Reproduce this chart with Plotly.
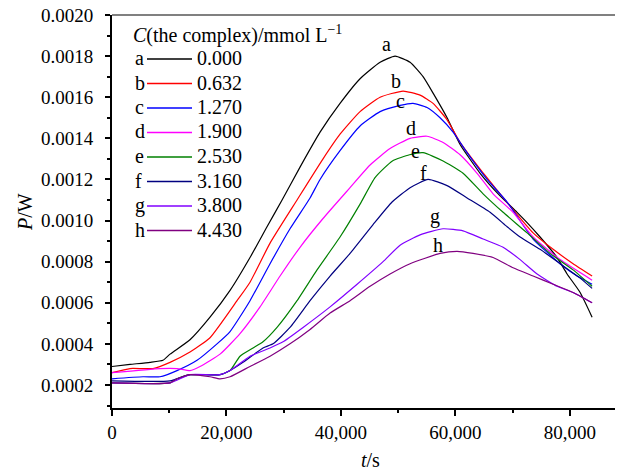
import plotly.graph_objects as go

# ---------------- data (t in s, P in W) ----------------
t_a = [0, 3150, 6640, 8910, 10140, 13630, 17130, 20630, 24120, 27090, 29720, 32860, 36360, 39850,
       43350, 46850, 49470, 52090, 54360, 56110, 58560, 60830, 64330, 67820, 70790, 72540,
       74810, 77790, 79530, 81810, 83900]
p_a = [0.00029, 0.00030, 0.00031, 0.00032, 0.00035, 0.00042, 0.00053, 0.00066, 0.00082, 0.00097,
       0.00110, 0.00126, 0.00143, 0.00157, 0.00169, 0.00177, 0.00180, 0.00177, 0.00170, 0.00162,
       0.00150, 0.00137, 0.00123, 0.00112, 0.00104, 0.00099, 0.00092, 0.00082, 0.00074,
       0.00065, 0.00053]

t_b = [0, 3150, 7170, 10140, 13630, 17130, 21850, 24120, 27620, 32340, 36880, 39850, 43350, 46850,
       50870, 53840, 56110, 58560, 60830, 64330, 67820, 69570, 73590, 77090, 80580, 83900]
p_b = [0.00026, 0.00028, 0.00028, 0.00031, 0.00036, 0.00043, 0.00061, 0.00070, 0.00089, 0.00110,
       0.00130, 0.00142, 0.00153, 0.00160, 0.00163, 0.00161, 0.00157, 0.00149, 0.00138, 0.00125,
       0.00113, 0.00107, 0.00094, 0.00086, 0.00079, 0.00073]

t_c = [0, 5420, 8390, 11360, 14860, 18350, 20630, 24120, 27620, 31110, 34610, 36360, 39850, 43350,
       46850, 50340, 52610, 55060, 57330, 59610, 62050, 65550, 69050, 73590, 78310, 81280, 83900]
p_c = [0.00023, 0.00024, 0.00024, 0.00027, 0.00032, 0.00040, 0.00046, 0.00061, 0.00079, 0.00096,
       0.00111, 0.00120, 0.00134, 0.00146, 0.00153, 0.00156, 0.00157, 0.00155, 0.00150, 0.00143,
       0.00133, 0.00120, 0.00109, 0.00091, 0.00079, 0.00073, 0.00069]

t_d = [0, 8390, 11360, 13630, 15380, 18880, 22370, 25870, 29370, 32860, 36880, 41600, 45100, 48590,
       52090, 55060, 57860, 60830, 63800, 66600, 70090, 73590, 78310, 83900]
p_d = [0.00026, 0.00028, 0.00028, 0.00027, 0.00029, 0.00035, 0.00045, 0.00058, 0.00073, 0.00087,
       0.00101, 0.00116, 0.00127, 0.00135, 0.00140, 0.00141, 0.00138, 0.00132, 0.00123, 0.00113,
       0.00104, 0.00092, 0.00081, 0.00071]

t_e = [0, 10140, 11360, 13630, 18880, 20630, 22370, 24650, 26390, 28840, 32340, 35830, 39850, 43350,
       46000, 49000, 52000, 54360, 57860, 61350, 64850, 68350, 72540, 76560, 80580, 83900]
p_e = [0.00021, 0.00021, 0.00023, 0.00025, 0.00025, 0.00027, 0.00034, 0.00038, 0.00041, 0.00048,
       0.00061, 0.00076, 0.00092, 0.00108, 0.00121, 0.00129, 0.00132, 0.00133, 0.00129, 0.00123,
       0.00113, 0.00104, 0.00094, 0.00084, 0.00076, 0.00068]

t_f = [0, 10140, 13630, 18880, 20630, 22900, 26390, 28140, 31110, 34610, 38110, 41600, 45620, 48940,
       52090, 55240, 58560, 62050, 66070, 69050, 71320, 74810, 78310, 81810, 83900]
p_f = [0.00022, 0.00022, 0.00025, 0.00025, 0.00027, 0.00031, 0.00038, 0.00040, 0.00048, 0.00061,
       0.00073, 0.00084, 0.00098, 0.00109, 0.00116, 0.00120, 0.00117, 0.00111, 0.00104, 0.00097,
       0.00092, 0.00086, 0.00079, 0.00072, 0.00067]

t_g = [0, 10140, 13630, 18880, 20630, 24120, 27620, 29890, 33390, 38110, 42830, 47370, 50340, 53840,
       57860, 61350, 64850, 68350, 71320, 74290, 77790, 80580, 83900]
p_g = [0.00021, 0.00021, 0.00025, 0.00025, 0.00027, 0.00034, 0.00038, 0.00041, 0.00048, 0.00058,
       0.00069, 0.00080, 0.00088, 0.00093, 0.00096, 0.00095, 0.00091, 0.00087, 0.00081, 0.00074,
       0.00068, 0.00065, 0.00060]

t_h = [0, 10140, 11360, 13630, 17130, 18880, 20630, 24120, 27620, 31110, 34610, 38110, 41600, 45100,
       48590, 52090, 57330, 60310, 63100, 66600, 70090, 73590, 77090, 80580, 83900]
p_h = [0.00021, 0.00021, 0.00023, 0.00025, 0.00024, 0.00023, 0.00024, 0.00029, 0.00034, 0.00040,
       0.00047, 0.00055, 0.00061, 0.00068, 0.00074, 0.00079, 0.00084, 0.00085, 0.00084, 0.00082,
       0.00077, 0.00073, 0.00069, 0.00065, 0.00060]

series_t = [t_a, t_b, t_c, t_d, t_e, t_f, t_g, t_h]
series_p = [p_a, p_b, p_c, p_d, p_e, p_f, p_g, p_h]
letters = ["a", "b", "c", "d", "e", "f", "g", "h"]
concentrations = ["0.000", "0.632", "1.270", "1.900", "2.530", "3.160", "3.800", "4.430"]
colors = ["#000000", "#FF0000", "#0000FF", "#FF00FF", "#008000", "#000080", "#8000FF", "#800080"]

# curve label positions (data coords)
label_t = [47900, 49640, 50340, 52260, 52960, 54360, 56460, 57000]
label_p = [0.00186, 0.00168, 0.00158, 0.00145, 0.00134, 0.00123, 0.00102, 0.00088]

x_ticks = [0, 20000, 40000, 60000, 80000]
x_ticktext = ["0", "20,000", "40,000", "60,000", "80,000"]
x_minor = [10000, 30000, 50000, 70000]
y_ticks = [0.0002, 0.0004, 0.0006, 0.0008, 0.0010, 0.0012, 0.0014, 0.0016, 0.0018, 0.0020]
y_ticktext = ["0.0002", "0.0004", "0.0006", "0.0008", "0.0010", "0.0012", "0.0014", "0.0016",
              "0.0018", "0.0020"]
y_minor = [0.0001, 0.0003, 0.0005, 0.0007, 0.0009, 0.0011, 0.0013, 0.0015, 0.0017, 0.0019]

legend_title = "<i>C</i>(the complex)/mmol L<sup>\u22121</sup>"

# ---------------- figure ----------------
FONT = "Liberation Serif, Times New Roman, Times, serif"
OFF = 8  # page body margin
W, H = 623 - OFF, 473 - OFF
ML, MR, MT, MB = 112 - OFF, 0, 15 - OFF, 65
PW, PH = W - ML - MR, H - MT - MB


def px_x(px):
    return (px - OFF - ML) / PW


def px_y(py):
    return (H - MB - (py - OFF)) / PH


fig = go.Figure()
for t, p, c in zip(series_t, series_p, colors):
    fig.add_trace(go.Scatter(x=t, y=p, mode="lines",
                             line=dict(color=c, width=1.2, shape="spline", smoothing=0.5),
                             showlegend=False, hoverinfo="skip"))

annotations = []
for lt, lp, lab in zip(label_t, label_p, letters):
    annotations.append(dict(x=lt, y=lp, xref="x", yref="y", text=lab, showarrow=False,
                            font=dict(size=20, family=FONT, color="black")))

# legend drawn manually
shapes = []
annotations.append(dict(x=px_x(131), y=px_y(34), xref="paper", yref="paper", text=legend_title,
                        showarrow=False, xanchor="left", yanchor="middle",
                        font=dict(size=20, family=FONT, color="black")))
for i, (lab, conc, c) in enumerate(zip(letters, concentrations, colors)):
    py = 58 + 24.5 * i
    annotations.append(dict(x=px_x(133), y=px_y(py), xref="paper", yref="paper", text=lab,
                            showarrow=False, xanchor="left", yanchor="middle",
                            font=dict(size=20, family=FONT, color="black")))
    annotations.append(dict(x=px_x(195), y=px_y(py), xref="paper", yref="paper", text=conc,
                            showarrow=False, xanchor="left", yanchor="middle",
                            font=dict(size=20, family=FONT, color="black")))
    shapes.append(dict(type="line", xref="paper", yref="paper", x0=px_x(147), x1=px_x(192),
                       y0=px_y(py + 1), y1=px_y(py + 1), line=dict(color=c, width=1.5)))

# top frame line (grey)
shapes.append(dict(type="line", xref="paper", yref="paper", x0=0, x1=1, y0=1, y1=1,
                   line=dict(color="#808080", width=2)))

# axis titles
annotations.append(dict(x=px_x(25), y=px_y(212), xref="paper", yref="paper", text="<i>P</i>/W",
                        showarrow=False, textangle=-90, xanchor="center", yanchor="middle",
                        font=dict(size=20, family=FONT, color="black")))
annotations.append(dict(x=px_x(370), y=px_y(460), xref="paper", yref="paper", text="<i>t</i>/s",
                        showarrow=False, xanchor="center", yanchor="middle",
                        font=dict(size=20, family=FONT, color="black")))

fig.update_layout(
    width=W, height=H,
    margin=dict(l=ML, r=MR, t=MT, b=MB, pad=0),
    paper_bgcolor="white", plot_bgcolor="white",
    font=dict(family=FONT, size=19, color="black"),
    showlegend=False,
    annotations=annotations,
    shapes=shapes,
    xaxis=dict(range=[0, 89300], tickmode="array", tickvals=x_ticks, ticktext=x_ticktext,
               automargin=False, ticklabeloverflow="allow",
               showgrid=False, zeroline=False, showline=True, linecolor="black", linewidth=2,
               ticks="outside", ticklen=6, tickwidth=2, tickcolor="black",
               minor=dict(tickmode="array", tickvals=x_minor, ticks="outside", ticklen=3,
                          tickwidth=2, tickcolor="black", showgrid=False),
               tickfont=dict(size=19, family=FONT, color="black")),
    yaxis=dict(range=[0.000088, 0.00200001], tickmode="array", tickvals=y_ticks,
               ticktext=y_ticktext, automargin=False, ticklabeloverflow="allow",
               showgrid=False, zeroline=False, showline=True, linecolor="black", linewidth=2,
               ticks="outside", ticklen=5, tickwidth=2, tickcolor="black",
               minor=dict(tickmode="array", tickvals=y_minor, ticks="outside", ticklen=3,
                          tickwidth=2, tickcolor="black", showgrid=False),
               ticklabelstandoff=8,
               tickfont=dict(size=19, family=FONT, color="black")),
)

fig.write_html("out.html")
